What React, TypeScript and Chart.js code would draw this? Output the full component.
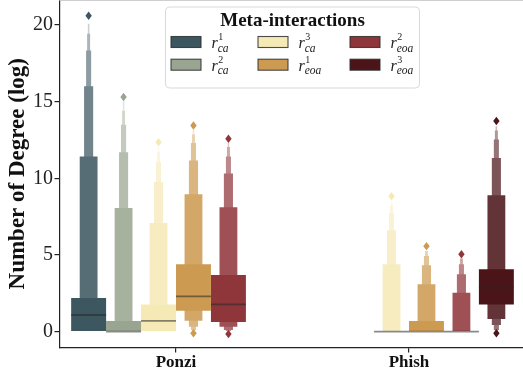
import React, { useEffect, useRef } from 'react';
import { Chart, registerables } from 'chart.js';

Chart.register(...registerables);

type Box = [number, number];

// ---------- data ----------
const categories = ['Ponzi', 'Phish'];
const seriesSub = ['ca', 'ca', 'ca', 'eoa', 'eoa', 'eoa'];
const seriesSup = ['1', '2', '3', '1', '2', '3'];

// letter-value boxes, level 1 (median box) first, [low, high]
const rca1Ponzi: Box[] = [[0, 2.2], [0, 11.43], [0, 16.0], [0, 18.33], [0, 19.43], [0, 20.08]];
const rca2Ponzi: Box[] = [[0, 0.7], [0, 8.07], [0, 11.7], [0, 13.5], [0, 14.4], [0, 15.07]];
const rca3Ponzi: Box[] = [[0, 1.78], [0, 7.09], [0, 9.76], [0, 11.06], [0, 11.71], [0, 12.1]];
const reoa1Ponzi: Box[] = [[1.37, 4.4], [0.72, 8.96], [0.33, 11.17], [0.11, 12.3], [0, 12.86], [0, 13.19]];
const reoa2Ponzi: Box[] = [[0.63, 3.69], [0.33, 8.11], [0.11, 10.31], [0, 11.43], [0, 12.04], [0, 12.3]];
const rca3Phish: Box[] = [[0, 0], [0, 4.4], [0, 6.62], [0, 7.74], [0, 8.24], [0, 8.52]];
const reoa1Phish: Box[] = [[0, 0.7], [0, 3.1], [0, 4.34], [0, 4.93], [0, 5.27]];
const reoa2Phish: Box[] = [[0, 0], [0, 2.54], [0, 3.75], [0, 4.4], [0, 4.78]];
const reoa3Phish: Box[] = [[1.78, 4.08], [0.83, 8.89], [0.44, 11.32], [0.11, 12.54], [0, 13.12], [0, 13.4]];

const mediansPonzi: (number | null)[] = [1.09, 0, 0.7, 2.3, 1.78, null];
const mediansPhish: (number | null)[] = [null, null, 0, 0, 0, 2.89];

const outliersPonzi: number[][] = [[20.6], [15.3], [12.36], [13.45, -0.1], [12.58, -0.15], []];
const outliersPhish: number[][] = [[], [], [8.83], [5.58], [5.05], [13.74, -0.1]];

const yTicks = [0, 5, 10, 15, 20];
const yMin = -1.03;
const yMax = 21.63;

// ---------- styles ----------
const seriesColors = ['#3d5761', '#99a590', '#f5e9b6', '#cc9a50', '#8f363b', '#4b1419'];
const levelWidths = [1, 0.51, 0.26, 0.145, 0.085, 0.045];
const levelTint = [0, 0.13, 0.27, 0.41, 0.56, 0.72];
const SERIF = '"Liberation Serif", "Times New Roman", serif';

const levelsBySeries: (Box[] | null)[][] = [
  [rca1Ponzi, null],
  [rca2Ponzi, null],
  [rca3Ponzi, rca3Phish],
  [reoa1Ponzi, reoa1Phish],
  [reoa2Ponzi, reoa2Phish],
  [null, reoa3Phish],
];
const mediansByCat = [mediansPonzi, mediansPhish];
const outliersByCat = [outliersPonzi, outliersPhish];

function tint(hex: string, t: number): string {
  const n = parseInt(hex.slice(1), 16);
  const r = (n >> 16) & 255, g = (n >> 8) & 255, b = n & 255;
  const m = (c: number) => Math.round(c + (255 - c) * t);
  return `rgb(${m(r)},${m(g)},${m(b)})`;
}

const boxenExtras = {
  id: 'boxenExtras',
  afterDatasetsDraw(chart: any) {
    const ctx = chart.ctx as CanvasRenderingContext2D;
    const y = chart.scales.y;
    ctx.save();
    for (let s = 0; s < seriesColors.length; s++) {
      const meta = chart.getDatasetMeta(s); // level-1 dataset of series s
      categories.forEach((_, ci) => {
        const el = meta.data[ci];
        if (!el) return;
        const { x, width } = el.getProps(['x', 'width'], true);
        const med = mediansByCat[ci][s];
        if (med !== null && med !== undefined) {
          const py = y.getPixelForValue(med);
          ctx.strokeStyle = 'rgba(40,40,40,0.55)';
          ctx.lineWidth = 1.8;
          ctx.beginPath();
          ctx.moveTo(x - width / 2, py);
          ctx.lineTo(x + width / 2, py);
          ctx.stroke();
        }
        for (const v of outliersByCat[ci][s]) {
          const py = y.getPixelForValue(v);
          ctx.fillStyle = seriesColors[s];
          ctx.beginPath();
          ctx.moveTo(x, py - 4.2);
          ctx.lineTo(x + 3.2, py);
          ctx.lineTo(x, py + 4.2);
          ctx.lineTo(x - 3.2, py);
          ctx.closePath();
          ctx.fill();
        }
      });
    }
    ctx.restore();
  },
  afterDraw(chart: any) {
    const ctx = chart.ctx as CanvasRenderingContext2D;
    const area = chart.chartArea;
    ctx.save();
    // faint top frame line
    ctx.strokeStyle = '#cfcfcf';
    ctx.lineWidth = 1;
    ctx.beginPath();
    ctx.moveTo(area.left, 0.5);
    ctx.lineTo(area.right, 0.5);
    ctx.stroke();

    // legend
    const lx = 165.5, ly = 7, lw = 254, lh = 81, rr = 4;
    ctx.beginPath();
    ctx.moveTo(lx + rr, ly);
    ctx.arcTo(lx + lw, ly, lx + lw, ly + lh, rr);
    ctx.arcTo(lx + lw, ly + lh, lx, ly + lh, rr);
    ctx.arcTo(lx, ly + lh, lx, ly, rr);
    ctx.arcTo(lx, ly, lx + lw, ly, rr);
    ctx.closePath();
    ctx.fillStyle = 'rgba(255,255,255,0.85)';
    ctx.fill();
    ctx.strokeStyle = '#d9d9d9';
    ctx.lineWidth = 1;
    ctx.stroke();

    ctx.fillStyle = '#111';
    ctx.font = `bold 19px ${SERIF}`;
    ctx.textAlign = 'center';
    ctx.textBaseline = 'alphabetic';
    ctx.fillText('Meta-interactions', lx + lw / 2, 26);

    const colX = [171, 258, 350];
    const rowY = [36.5, 59.2];
    seriesColors.forEach((c, i) => {
      const col = Math.floor(i / 2), row = i % 2;
      const sx = colX[col], sy = rowY[row];
      ctx.fillStyle = c;
      ctx.fillRect(sx, sy, 30, 11);
      ctx.strokeStyle = 'rgba(45,45,45,0.85)';
      ctx.lineWidth = 1.1;
      ctx.strokeRect(sx, sy, 30, 11);
      const tx = sx + 40.5;
      ctx.fillStyle = '#222';
      ctx.textAlign = 'left';
      ctx.font = `italic 16px ${SERIF}`;
      ctx.fillText('r', tx, sy + 11.5);
      const rw = ctx.measureText('r').width;
      ctx.font = `10px ${SERIF}`;
      ctx.fillText(seriesSup[i], tx + rw + 0.5, sy + 3.4);
      ctx.font = `italic 11.5px ${SERIF}`;
      ctx.fillText(seriesSub[i], tx + rw, sy + 15);
    });
    ctx.restore();
  },
};

export default function App() {
  const ref = useRef<HTMLCanvasElement | null>(null);

  useEffect(() => {
    if (!ref.current) return;
    const datasets: any[] = [];
    levelWidths.forEach((w, k) => {
      seriesColors.forEach((c, s) => {
        datasets.push({
          label: `r_${seriesSub[s]}^${seriesSup[s]} L${k + 1}`,
          stack: `s${s}`,
          data: categories.map((_, ci) => {
            const lv = levelsBySeries[s][ci];
            return lv && lv[k] ? lv[k] : null;
          }),
          backgroundColor: tint(c, levelTint[k]),
          borderWidth: 0,
          barPercentage: w,
          categoryPercentage: 0.9,
        });
      });
    });

    const chart = new Chart(ref.current, {
      type: 'bar',
      data: { labels: categories, datasets },
      plugins: [boxenExtras],
      options: {
        animation: false,
        responsive: false,
        devicePixelRatio: 1,
        layout: { padding: { left: 0, right: 1.5, top: 0, bottom: 0 } },
        plugins: { legend: { display: false }, tooltip: { enabled: false } },
        scales: {
          x: {
            grid: { display: true, drawOnChartArea: false, offset: false, tickLength: 5, color: '#222', lineWidth: 1.2 },
            border: { display: true, color: '#222', width: 1.2 },
            ticks: { color: '#111', font: { family: SERIF, size: 17, weight: 'bold' }, padding: 0 },
            afterFit: (sc: any) => { sc.height = 29.5; sc.paddingLeft = 0; sc.paddingRight = 0; },
          },
          y: {
            stacked: false,
            min: yMin,
            max: yMax,
            afterBuildTicks: (sc: any) => { sc.ticks = yTicks.map((v) => ({ value: v })); },
            grid: { display: true, drawOnChartArea: false, tickLength: 5, color: '#222', lineWidth: 1.2 },
            border: { display: true, color: '#222', width: 1.2 },
            ticks: { color: '#222', font: { family: SERIF, size: 20 }, padding: 1.5 },
            title: {
              display: true,
              text: 'Number of Degree (log)',
              color: '#111',
              font: { family: SERIF, size: 23, weight: 'bold' },
              padding: { top: 4, bottom: 0 },
            },
            afterFit: (sc: any) => { sc.width = 59.5; sc.paddingTop = 0; sc.paddingBottom = 0; },
          },
        },
      } as any,
    });
    return () => chart.destroy();
  }, []);

  return (
    <div style={{ position: 'absolute', left: 0, top: 0, width: 523, height: 377, overflow: 'hidden', background: '#fff' }}>
      <canvas ref={ref} width={527} height={377} style={{ width: 527, height: 377, display: 'block' }} />
    </div>
  );
}
